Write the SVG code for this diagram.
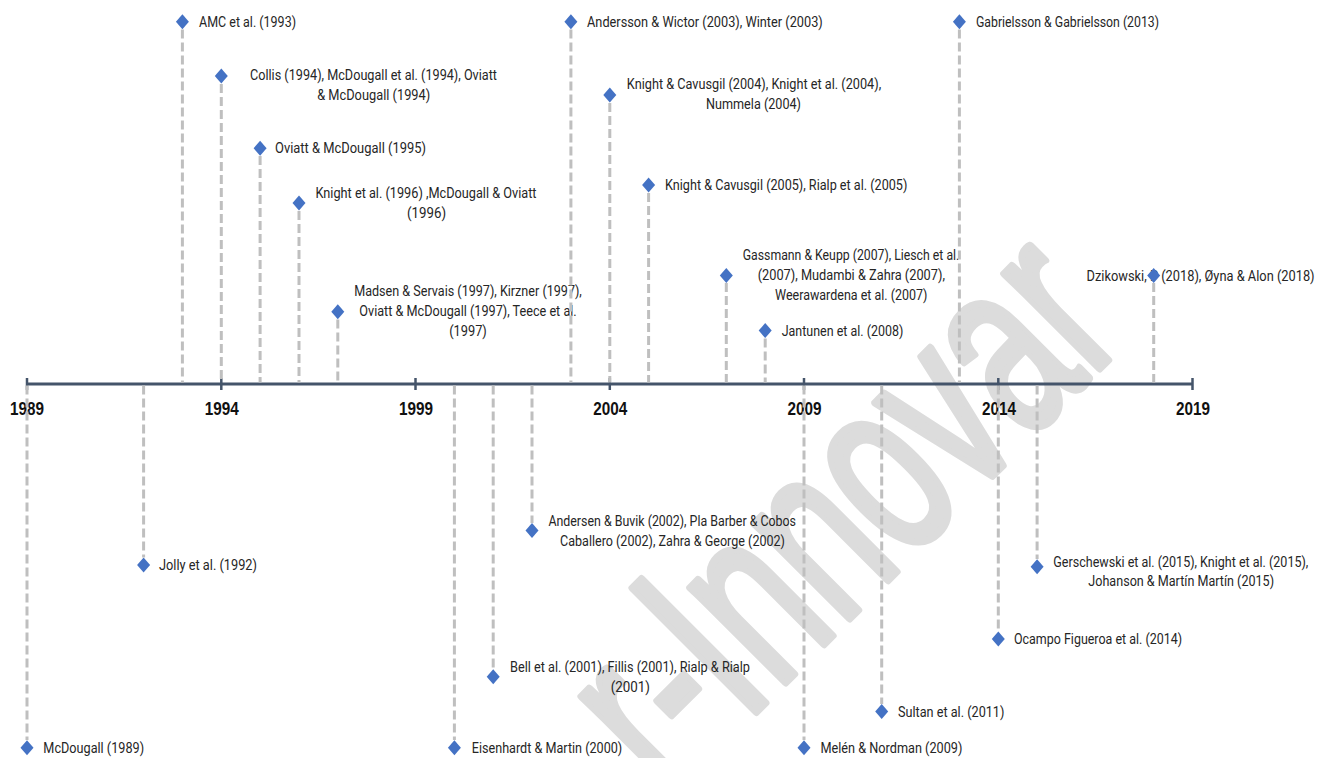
<svg xmlns="http://www.w3.org/2000/svg" xmlns:xlink="http://www.w3.org/1999/xlink" width="1330" height="758" viewBox="0 0 1330 758">
<style>
.lbl{font-family:Roboto,"Noto Sans","Liberation Sans",sans-serif;font-size:15px;fill:#262626;text-anchor:middle}
.yr{font-family:"Liberation Sans",Arial,sans-serif;font-size:18.5px;font-weight:bold;fill:#111;text-anchor:middle}
.dash{stroke:#BFBFBF;stroke-width:3;stroke-dasharray:9 4;fill:none}
.axis{stroke:#44546A;stroke-width:3;fill:none}
.tick{stroke:#44546A;stroke-width:2.5}
.dm{fill:#4472C4}
.wm{font-family:"Liberation Sans",Arial,sans-serif;font-size:254px;fill:#DCDCDC;stroke:#DCDCDC;stroke-width:8;stroke-linejoin:round}
</style>
<defs>
<path id="d" class="dm" d="M0,-7.5 L6.5,0 L0,7.5 L-6.5,0 Z"/>
</defs>
<rect width="1330" height="758" fill="#ffffff"/>
<g id="watermark">
<text class="wm" transform="translate(668,800) rotate(-45)" x="0" y="0" textLength="652" lengthAdjust="spacingAndGlyphs">r-Innovar</text>
</g>
<g id="axis">
<line class="axis" x1="27" y1="384" x2="1192.5" y2="384"/>
<line class="tick" x1="27" y1="378" x2="27" y2="390"/>
<line class="tick" x1="221.3" y1="378" x2="221.3" y2="390"/>
<line class="tick" x1="415.5" y1="378" x2="415.5" y2="390"/>
<line class="tick" x1="609.8" y1="378" x2="609.8" y2="390"/>
<line class="tick" x1="804" y1="378" x2="804" y2="390"/>
<line class="tick" x1="998.3" y1="378" x2="998.3" y2="390"/>
<line class="tick" x1="1192.5" y1="378" x2="1192.5" y2="390"/>
<text class="yr" x="27" y="415" textLength="34" lengthAdjust="spacingAndGlyphs">1989</text>
<text class="yr" x="221.8" y="415" textLength="34" lengthAdjust="spacingAndGlyphs">1994</text>
<text class="yr" x="416" y="415" textLength="34" lengthAdjust="spacingAndGlyphs">1999</text>
<text class="yr" x="610.3" y="415" textLength="34" lengthAdjust="spacingAndGlyphs">2004</text>
<text class="yr" x="804.5" y="415" textLength="34" lengthAdjust="spacingAndGlyphs">2009</text>
<text class="yr" x="999" y="415" textLength="34" lengthAdjust="spacingAndGlyphs">2014</text>
<text class="yr" x="1193" y="415" textLength="34" lengthAdjust="spacingAndGlyphs">2019</text>
</g>
<g id="n1993">
<text class="lbl" x="247.5" y="26.7" textLength="97" lengthAdjust="spacingAndGlyphs">AMC et al. (1993)</text>
<use xlink:href="#d" x="182.4" y="21.7"/>
</g>
<g id="n1994">
<text class="lbl" x="373.5" y="80" textLength="247" lengthAdjust="spacingAndGlyphs">Collis (1994), McDougall et al. (1994), Oviatt</text>
<text class="lbl" x="373.7" y="100" textLength="113" lengthAdjust="spacingAndGlyphs">&amp; McDougall (1994)</text>
<use xlink:href="#d" x="221.3" y="76"/>
</g>
<g id="n1995">
<text class="lbl" x="350.5" y="153.3" textLength="151" lengthAdjust="spacingAndGlyphs">Oviatt &amp; McDougall (1995)</text>
<use xlink:href="#d" x="260.1" y="148.3"/>
</g>
<g id="n1996">
<text class="lbl" x="426" y="198" textLength="221" lengthAdjust="spacingAndGlyphs">Knight et al. (1996) ,McDougall &amp; Oviatt</text>
<text class="lbl" x="426.5" y="218" textLength="39" lengthAdjust="spacingAndGlyphs">(1996)</text>
<use xlink:href="#d" x="299" y="203"/>
</g>
<g id="n1997">
<text class="lbl" x="468" y="296" textLength="227.7" lengthAdjust="spacingAndGlyphs">Madsen &amp; Servais (1997), Kirzner (1997),</text>
<text class="lbl" x="468" y="316" textLength="217.4" lengthAdjust="spacingAndGlyphs">Oviatt &amp; McDougall (1997), Teece et al.</text>
<text class="lbl" x="468" y="336" textLength="37.7" lengthAdjust="spacingAndGlyphs">(1997)</text>
<use xlink:href="#d" x="337.8" y="311.7"/>
</g>
<g id="n2003">
<text class="lbl" x="704.9" y="26.7" textLength="235.7" lengthAdjust="spacingAndGlyphs">Andersson &amp; Wictor (2003), Winter (2003)</text>
<use xlink:href="#d" x="570.9" y="21.7"/>
</g>
<g id="n2004">
<text class="lbl" x="754" y="89.3" textLength="254.3" lengthAdjust="spacingAndGlyphs">Knight &amp; Cavusgil (2004), Knight et al. (2004),</text>
<text class="lbl" x="753.5" y="109.3" textLength="95" lengthAdjust="spacingAndGlyphs">Nummela (2004)</text>
<use xlink:href="#d" x="609.8" y="95"/>
</g>
<g id="n2005">
<text class="lbl" x="786.2" y="190" textLength="242.3" lengthAdjust="spacingAndGlyphs">Knight &amp; Cavusgil (2005), Rialp et al. (2005)</text>
<use xlink:href="#d" x="648.6" y="185"/>
</g>
<g id="n2007">
<text class="lbl" x="851" y="260.2" textLength="216.6" lengthAdjust="spacingAndGlyphs">Gassmann &amp; Keupp (2007), Liesch et al.</text>
<text class="lbl" x="851.3" y="280.4" textLength="187.3" lengthAdjust="spacingAndGlyphs">(2007), Mudambi &amp; Zahra (2007),</text>
<text class="lbl" x="851.2" y="300.4" textLength="152.3" lengthAdjust="spacingAndGlyphs">Weerawardena et al. (2007)</text>
<use xlink:href="#d" x="726.3" y="275.4"/>
</g>
<g id="n2008">
<text class="lbl" x="842.5" y="335.6" textLength="121.6" lengthAdjust="spacingAndGlyphs">Jantunen et al. (2008)</text>
<use xlink:href="#d" x="765.2" y="330.6"/>
</g>
<g id="n2013">
<text class="lbl" x="1067.5" y="26.7" textLength="183" lengthAdjust="spacingAndGlyphs">Gabrielsson &amp; Gabrielsson (2013)</text>
<use xlink:href="#d" x="959.4" y="21.7"/>
</g>
<g id="n2018">
<text class="lbl" x="1200.6" y="280.5" textLength="228" lengthAdjust="spacingAndGlyphs">Dzikowski, P (2018), Øyna &amp; Alon (2018)</text>
<use xlink:href="#d" x="1153.7" y="275.5"/>
</g>
<g id="n1989">
<text class="lbl" x="93.7" y="752.7" textLength="100.7" lengthAdjust="spacingAndGlyphs">McDougall (1989)</text>
<use xlink:href="#d" x="27" y="747.7"/>
</g>
<g id="n1992">
<text class="lbl" x="208" y="570" textLength="98" lengthAdjust="spacingAndGlyphs">Jolly et al. (1992)</text>
<use xlink:href="#d" x="143.6" y="565"/>
</g>
<g id="n2000">
<text class="lbl" x="547" y="752.7" textLength="150.5" lengthAdjust="spacingAndGlyphs">Eisenhardt &amp; Martin (2000)</text>
<use xlink:href="#d" x="454.4" y="747.7"/>
</g>
<g id="n2001">
<text class="lbl" x="630" y="671.7" textLength="240" lengthAdjust="spacingAndGlyphs">Bell et al. (2001), Fillis (2001), Rialp &amp; Rialp</text>
<text class="lbl" x="630.3" y="691.7" textLength="39.3" lengthAdjust="spacingAndGlyphs">(2001)</text>
<use xlink:href="#d" x="493.2" y="676.7"/>
</g>
<g id="n2002">
<text class="lbl" x="672.2" y="525.7" textLength="247.6" lengthAdjust="spacingAndGlyphs">Andersen &amp; Buvik (2002), Pla Barber &amp; Cobos</text>
<text class="lbl" x="672.5" y="545.7" textLength="225" lengthAdjust="spacingAndGlyphs">Caballero (2002), Zahra &amp; George (2002)</text>
<use xlink:href="#d" x="532" y="530.5"/>
</g>
<g id="n2009">
<text class="lbl" x="891.4" y="752.7" textLength="141.8" lengthAdjust="spacingAndGlyphs">Melén &amp; Nordman (2009)</text>
<use xlink:href="#d" x="804" y="747.7"/>
</g>
<g id="n2011">
<text class="lbl" x="951.2" y="716.5" textLength="106.4" lengthAdjust="spacingAndGlyphs">Sultan et al. (2011)</text>
<use xlink:href="#d" x="881.7" y="711.5"/>
</g>
<g id="n2014">
<text class="lbl" x="1098" y="644" textLength="168" lengthAdjust="spacingAndGlyphs">Ocampo Figueroa et al. (2014)</text>
<use xlink:href="#d" x="998.3" y="639"/>
</g>
<g id="n2015">
<text class="lbl" x="1180.8" y="566.7" textLength="255" lengthAdjust="spacingAndGlyphs">Gerschewski et al. (2015), Knight et al. (2015),</text>
<text class="lbl" x="1181.2" y="585.7" textLength="185.7" lengthAdjust="spacingAndGlyphs">Johanson &amp; Martín Martín (2015)</text>
<use xlink:href="#d" x="1037.1" y="566.7"/>
</g>
<g id="connectors">
<line class="dash" x1="182.4" y1="29.5" x2="182.4" y2="382.5"/>
<line class="dash" x1="221.3" y1="84" x2="221.3" y2="382.5"/>
<line class="dash" x1="260.1" y1="156" x2="260.1" y2="382.5"/>
<line class="dash" x1="299" y1="211" x2="299" y2="382.5"/>
<line class="dash" x1="337.8" y1="319.5" x2="337.8" y2="382.5"/>
<line class="dash" x1="570.9" y1="29.5" x2="570.9" y2="382.5"/>
<line class="dash" x1="609.8" y1="103" x2="609.8" y2="382.5"/>
<line class="dash" x1="648.6" y1="193" x2="648.6" y2="382.5"/>
<line class="dash" x1="726.3" y1="283" x2="726.3" y2="382.5"/>
<line class="dash" x1="765.2" y1="338.5" x2="765.2" y2="382.5"/>
<line class="dash" x1="959.4" y1="29.5" x2="959.4" y2="382.5"/>
<line class="dash" x1="1153.7" y1="283" x2="1153.7" y2="382.5"/>
<line class="dash" x1="27" y1="385.5" x2="27" y2="740"/>
<line class="dash" x1="143.6" y1="385.5" x2="143.6" y2="557.5"/>
<line class="dash" x1="454.4" y1="385.5" x2="454.4" y2="740"/>
<line class="dash" x1="493.2" y1="385.5" x2="493.2" y2="669"/>
<line class="dash" x1="532" y1="385.5" x2="532" y2="523"/>
<line class="dash" x1="804" y1="385.5" x2="804" y2="740"/>
<line class="dash" x1="881.7" y1="385.5" x2="881.7" y2="704"/>
<line class="dash" x1="998.3" y1="385.5" x2="998.3" y2="631.5"/>
<line class="dash" x1="1037.1" y1="385.5" x2="1037.1" y2="559"/>
</g>
</svg>
